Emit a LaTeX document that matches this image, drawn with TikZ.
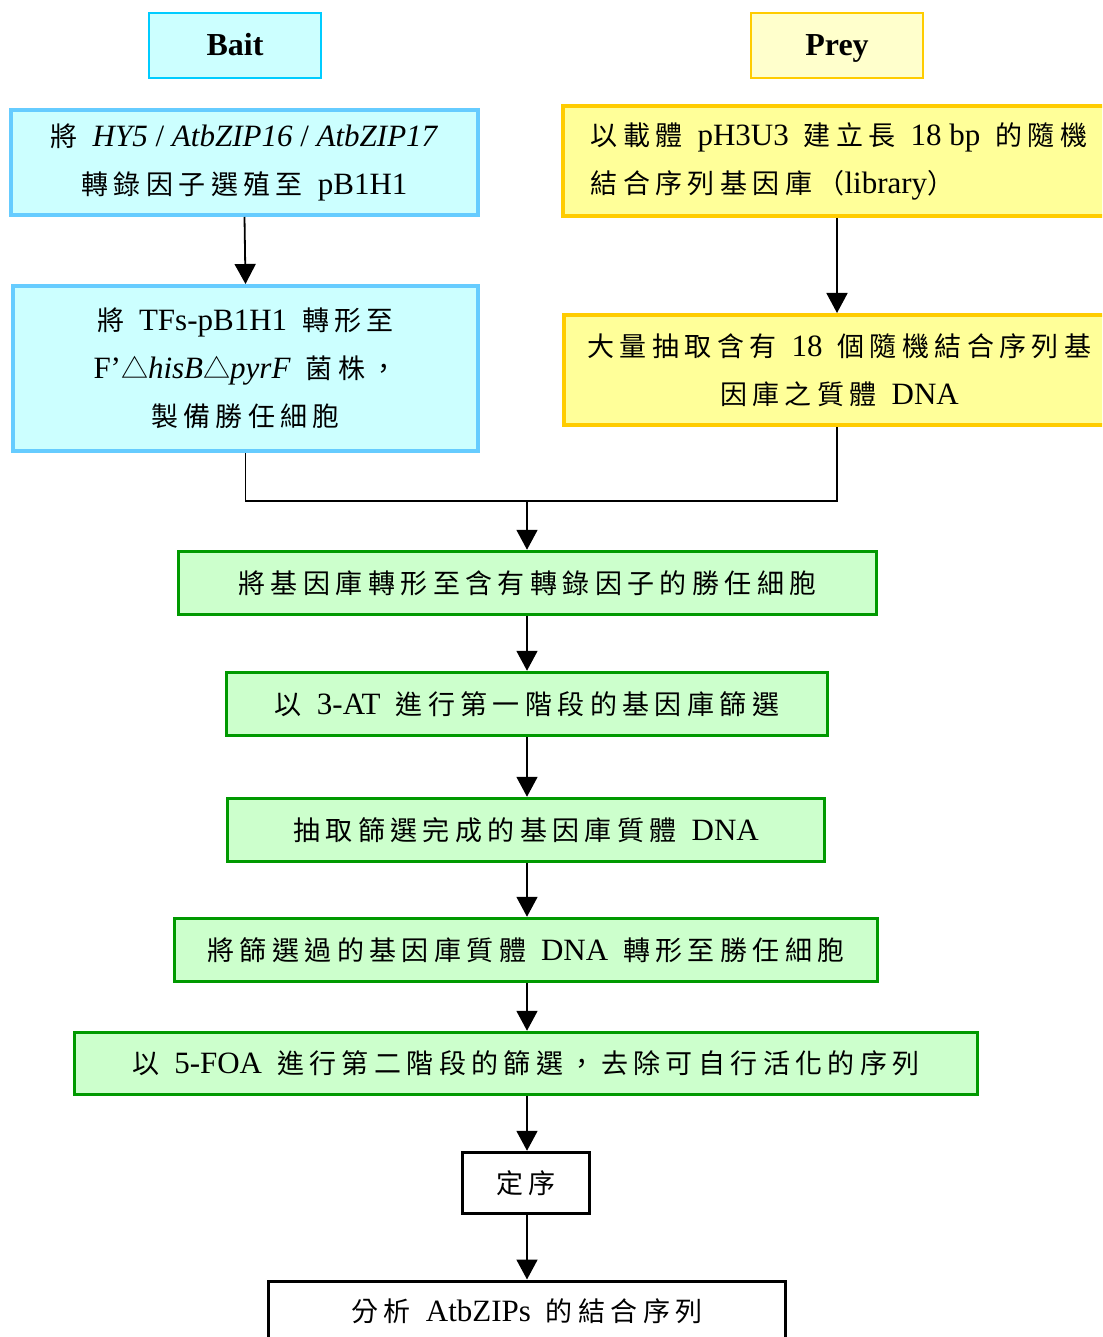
\documentclass[tikz,border=0pt]{standalone}
\usepackage{fontspec}
\setmainfont{Liberation Serif}
\newfontfamily\cj[LetterSpace=20]{Noto Sans CJK TC}
\newcommand\zh[1]{{\cj\fontsize{27}{48}\selectfont #1}}
\newcommand\gp{\hspace{15pt}}
\usetikzlibrary{arrows.meta}
\definecolor{cyanfill}{HTML}{CCFFFF}
\definecolor{cyanline}{HTML}{00CCFF}
\definecolor{blueline}{HTML}{66CCFF}
\definecolor{yelfill}{HTML}{FFFFCC}
\definecolor{yelfillB}{HTML}{FFFF99}
\definecolor{yelline}{HTML}{FFCC00}
\definecolor{grnfill}{HTML}{CCFFCC}
\definecolor{grnline}{HTML}{009900}
\tikzset{
  bx/.style={rectangle, inner sep=0pt, align=center, font=\fontsize{31}{48}\selectfont},
  tagbox/.style={bx, line width=2pt, minimum width=172pt, minimum height=65pt, text height=21pt, text depth=0pt, font=\fontsize{32}{36}\selectfont\bfseries},
  baitbox/.style={bx, fill=cyanfill, draw=blueline, line width=4pt},
  preybox/.style={bx, fill=yelfillB, draw=yelline, line width=4pt},
  grnbox/.style={bx, fill=grnfill, draw=grnline, line width=3.5pt, minimum height=63pt},
  blkbox/.style={bx, fill=white, draw=black, line width=3.5pt},
  arr/.style={line width=1.8pt, -{Triangle[width=21pt,length=20pt]}},
  ln/.style={line width=1.8pt}
}
\begin{document}
\begin{tikzpicture}[x=1pt,y=-1pt]
\useasboundingbox (0,0) rectangle (1102,1337);
\clip (0,0) rectangle (1102,1337);
\node[tagbox, fill=cyanfill, draw=cyanline] (bait) at (235,45.5) {Bait};
\node[tagbox, fill=yelfill, draw=yelline] (prey) at (837,45.5) {Prey};

\node[baitbox, minimum width=467pt, minimum height=105pt] (b1) at (244.5,162.5)
  {\zh{將}\gp\textit{HY5} / \textit{AtbZIP16} / \textit{AtbZIP17}\\ \zh{轉錄因子選殖至}\gp pB1H1};
\node[baitbox, minimum width=465pt, minimum height=165pt] (b2) at (245.5,368.5)
  {\zh{將}\gp TFs-pB1H1\gp\zh{轉形至}\\ F’\zh{△}\textit{hisB}\zh{△}\textit{pyrF}\gp\zh{菌株，}\\ \zh{製備勝任細胞}};

\node[preybox, minimum width=552pt, minimum height=110pt, align=left] (p1) at (839,161)
  {\zh{以載體}\gp pH3U3\gp\zh{建立長}\gp 18 bp\gp\zh{的隨機}\\ \zh{結合序列基因庫（}library\zh{）}};
\node[preybox, minimum width=551pt, minimum height=110pt] (p2) at (839.5,370)
  {\zh{大量抽取含有}\gp 18\gp\zh{個隨機結合序列基}\\ \zh{因庫之質體}\gp DNA};

\node[grnbox, minimum width=698pt] (g1) at (527.5,583) {\zh{將基因庫轉形至含有轉錄因子的勝任細胞}};
\node[grnbox, minimum width=601pt] (g2) at (527,704) {\zh{以}\gp 3-AT\gp\zh{進行第一階段的基因庫篩選}};
\node[grnbox, minimum width=597pt] (g3) at (526,830) {\zh{抽取篩選完成的基因庫質體}\gp DNA};
\node[grnbox, minimum width=703pt] (g4) at (526,950) {\zh{將篩選過的基因庫質體}\gp DNA\gp\zh{轉形至勝任細胞}};
\node[grnbox, minimum width=903pt, minimum height=62pt] (g5) at (526,1063.5) {\zh{以}\gp 5-FOA\gp\zh{進行第二階段的篩選，去除可自行活化的序列}};

\node[blkbox, minimum width=127pt, minimum height=61pt] (seq) at (526,1183) {\zh{定序}};
\node[blkbox, minimum width=517pt, minimum height=71pt, anchor=north] (fin) at (527,1279.5) {};
\node[bx, anchor=base] (fint) at (527,1321) {\zh{分析}\gp AtbZIPs\gp\zh{的結合序列}};

\coordinate (m) at (527,501);
\draw[arr] (b1.south) -- (b2.north);
\draw[arr] (p1.south -| 837,0) -- (p2.north -| 837,0);
\draw[ln] (b2.south) |- (m);
\draw[ln] (p2.south -| 837,0) |- (m);
\draw[arr] (m) -- (g1.north -| m);
\draw[arr] (g1.south -| m) -- (g2.north -| m);
\draw[arr] (g2.south -| m) -- (g3.north -| m);
\draw[arr] (g3.south -| m) -- (g4.north -| m);
\draw[arr] (g4.south -| m) -- (g5.north -| m);
\draw[arr] (g5.south -| m) -- (seq.north -| m);
\draw[arr] (seq.south -| m) -- (fin.north -| m);
\end{tikzpicture}
\end{document}
